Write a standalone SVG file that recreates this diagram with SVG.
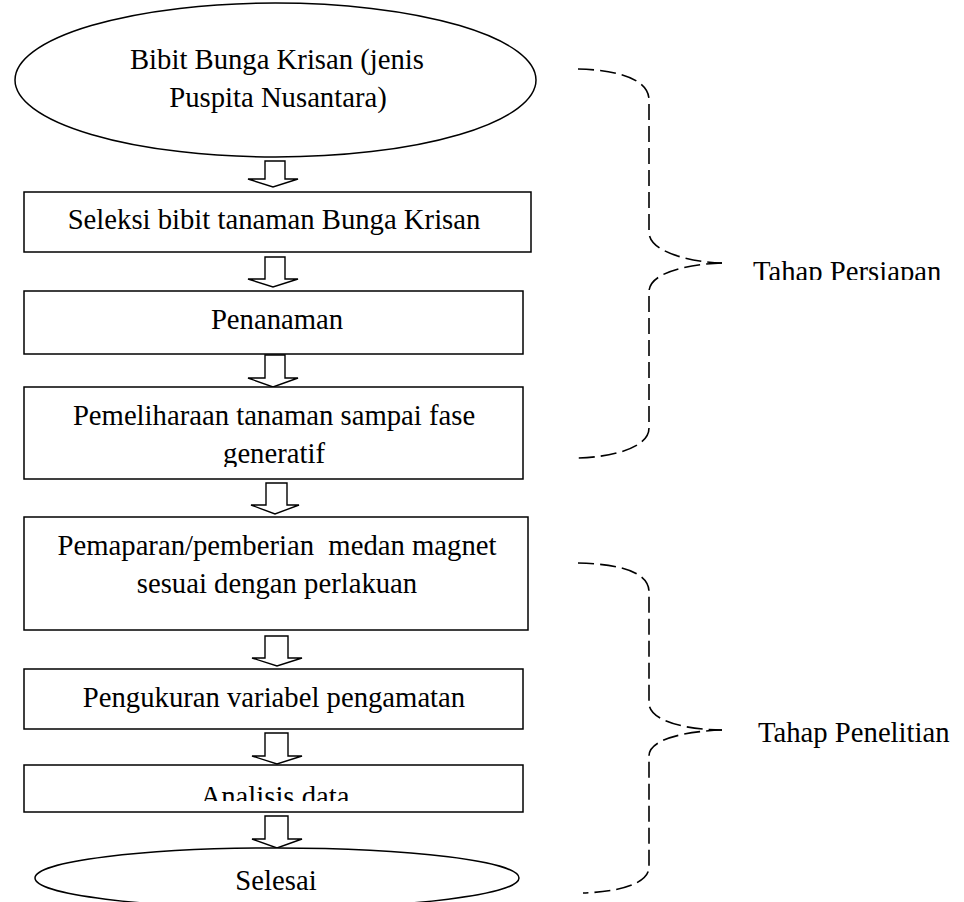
<svg xmlns="http://www.w3.org/2000/svg" width="964" height="902" viewBox="0 0 964 902">
<style>
.box{fill:#fff;stroke:#000;stroke-width:1.5}
.arr{fill:#fff;stroke:#000;stroke-width:1.4;stroke-linejoin:miter}
.brace{fill:none;stroke:#000;stroke-width:1.6;stroke-dasharray:16 6}
text{font-family:"Liberation Serif","Times New Roman",serif;font-size:28.7px;fill:#000}
.c{text-anchor:middle}
</style>
<defs>
<clipPath id="clipGen"><rect x="0" y="380" width="540" height="87"/></clipPath>
<clipPath id="clipAna"><rect x="0" y="760" width="540" height="41"/></clipPath>
<clipPath id="clipPer"><rect x="740" y="240" width="224" height="40"/></clipPath>
</defs>
<rect width="964" height="902" fill="#fff"/>
<g id="connectors">
<polygon class="arr" points="265,161 285,161 285,179 298,179 273,187 248,179 265,179"/>
<polygon class="arr" points="265,257 285,257 285,279 298,279 273,287 248,279 265,279"/>
<polygon class="arr" points="265,355 285,355 285,378 298,378 273,387 248,378 265,378"/>
<polygon class="arr" points="266,483 287,483 287,505 299,505 275,514 251,505 266,505"/>
<polygon class="arr" points="265,636 288,636 288,658 302,658 277,666 252,658 265,658"/>
<polygon class="arr" points="265,733 288,733 288,756 302,756 277,764 252,756 265,756"/>
<polygon class="arr" points="265,816 288,816 288,839 302,839 277,848 252,839 265,839"/>
</g>
<g id="node-start">
<ellipse class="box" cx="275.5" cy="80" rx="260.5" ry="77"/>
<text class="c" x="277" y="69">Bibit Bunga Krisan (jenis</text>
<text class="c" x="278" y="107">Puspita Nusantara)</text>
</g>
<g id="node-seleksi">
<rect class="box" x="24" y="192" width="507" height="60"/>
<text class="c" x="274" y="229">Seleksi bibit tanaman Bunga Krisan</text>
</g>
<g id="node-penanaman">
<rect class="box" x="24" y="291" width="499" height="63"/>
<text class="c" x="277" y="329">Penanaman</text>
</g>
<g id="node-pemeliharaan">
<rect class="box" x="24" y="387" width="499" height="92"/>
<text class="c" x="274" y="425">Pemeliharaan tanaman sampai fase</text>
<text class="c" x="274" y="463" clip-path="url(#clipGen)">generatif</text>
</g>
<g id="node-pemaparan">
<rect class="box" x="24" y="517" width="504" height="113"/>
<text class="c" x="277" y="555" xml:space="preserve" style="white-space:pre">Pemaparan/pemberian  medan magnet</text>
<text class="c" x="277" y="593">sesuai dengan perlakuan</text>
</g>
<g id="node-pengukuran">
<rect class="box" x="24" y="669" width="499" height="60"/>
<text class="c" x="274" y="707">Pengukuran variabel pengamatan</text>
</g>
<g id="node-analisis">
<rect class="box" x="24" y="765" width="499" height="47"/>
<text class="c" x="275" y="806" clip-path="url(#clipAna)">Analisis data</text>
</g>
<g id="node-selesai">
<ellipse class="box" cx="277" cy="878" rx="242" ry="30"/>
<text class="c" x="276" y="890">Selesai</text>
</g>
<g id="brace-persiapan">
<path class="brace" d="M578,69 C620,70 649,80 649,100 L649,232 C649,252 690,262 722,263"/>
<path class="brace" d="M722,263 C690,264 649,272 649,292 L649,428 C649,448 612,457 578,458"/>
<text x="753" y="281" clip-path="url(#clipPer)">Tahap Persiapan</text>
</g>
<g id="brace-penelitian">
<path class="brace" d="M578,563 C620,564 649,572 649,592 L649,703 C649,722 690,730 722,730"/>
<path class="brace" d="M722,730 C690,731 649,738 649,756 L649,867 C649,885 615,892 583,893"/>
<text x="758" y="742">Tahap Penelitian</text>
</g>
</svg>
